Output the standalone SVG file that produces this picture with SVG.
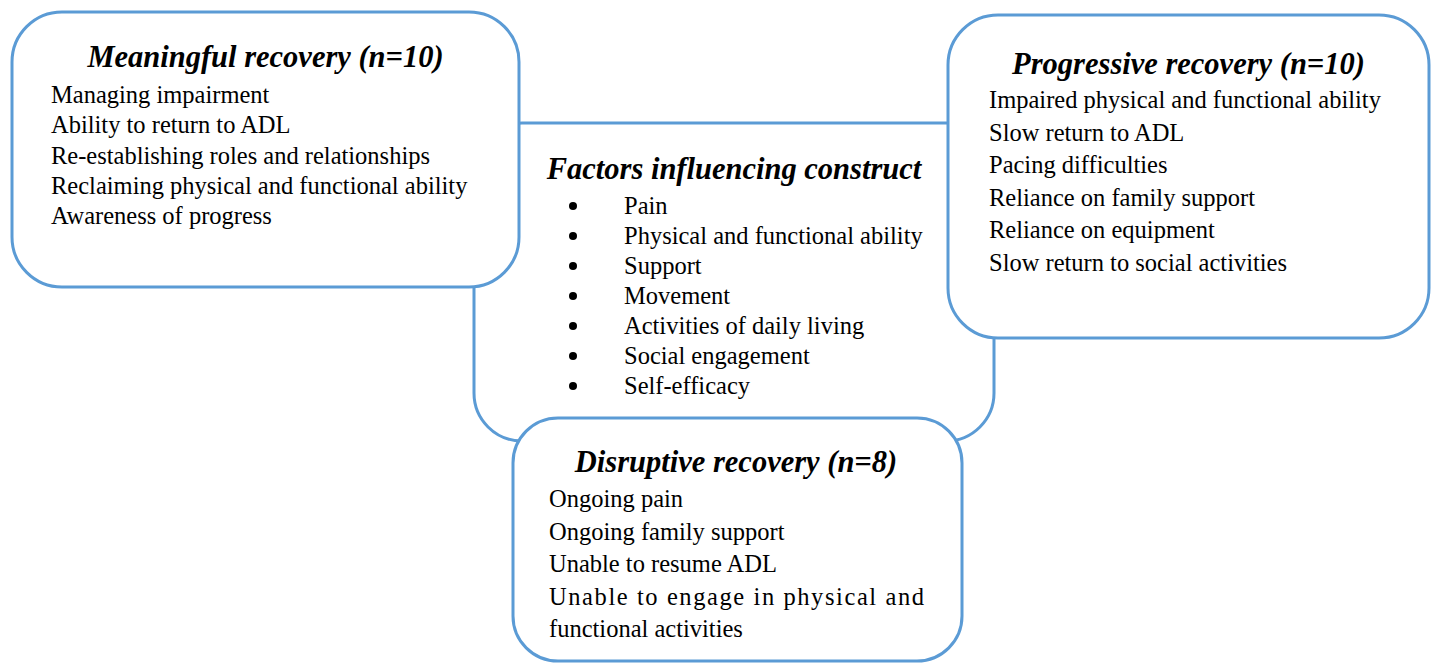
<svg xmlns="http://www.w3.org/2000/svg" width="1432" height="663" viewBox="0 0 1432 663">
<style>
.box{fill:#ffffff;stroke:#5b9bd5;stroke-width:3}
.t{font-family:"Liberation Serif","Times New Roman",serif;font-size:30.5px;font-weight:bold;font-style:italic;fill:#000;text-anchor:middle}
.b{font-family:"Liberation Serif","Times New Roman",serif;font-size:24.5px;fill:#000}
.dot{fill:#000}
</style>
<rect width="1432" height="663" fill="#ffffff"/>
<g id="connectors"></g>
<g id="factors">
<rect class="box" x="474" y="123" width="520" height="318" rx="48"/>
<text class="t" x="734" y="179">Factors influencing construct</text>
<circle class="dot" cx="573" cy="206" r="4"/>
<circle class="dot" cx="573" cy="236" r="4"/>
<circle class="dot" cx="573" cy="266" r="4"/>
<circle class="dot" cx="573" cy="296" r="4"/>
<circle class="dot" cx="573" cy="326" r="4"/>
<circle class="dot" cx="573" cy="356" r="4"/>
<circle class="dot" cx="573" cy="386" r="4"/>
<text class="b" x="624" y="214">Pain</text>
<text class="b" x="624" y="244">Physical and functional ability</text>
<text class="b" x="624" y="274">Support</text>
<text class="b" x="624" y="304">Movement</text>
<text class="b" x="624" y="334">Activities of daily living</text>
<text class="b" x="624" y="364">Social engagement</text>
<text class="b" x="624" y="394">Self-efficacy</text>
</g>
<g id="meaningful">
<rect class="box" x="12" y="12" width="507" height="275" rx="50"/>
<text class="t" x="265.5" y="67">Meaningful recovery (n=10)</text>
<text class="b" x="51" y="103">Managing impairment</text>
<text class="b" x="51" y="133">Ability to return to ADL</text>
<text class="b" x="51" y="164">Re-establishing roles and relationships</text>
<text class="b" x="51" y="194">Reclaiming physical and functional ability</text>
<text class="b" x="51" y="224">Awareness of progress</text>
</g>
<g id="progressive">
<rect class="box" x="948" y="15" width="481" height="323" rx="50"/>
<text class="t" x="1188.5" y="74">Progressive recovery (n=10)</text>
<text class="b" x="989" y="108">Impaired physical and functional ability</text>
<text class="b" x="989" y="141">Slow return to ADL</text>
<text class="b" x="989" y="173">Pacing difficulties</text>
<text class="b" x="989" y="206">Reliance on family support</text>
<text class="b" x="989" y="238">Reliance on equipment</text>
<text class="b" x="989" y="271">Slow return to social activities</text>
</g>
<g id="disruptive">
<rect class="box" x="513" y="418" width="449" height="243" rx="45"/>
<text class="t" x="736" y="472">Disruptive recovery (n=8)</text>
<text class="b" x="549" y="507">Ongoing pain</text>
<text class="b" x="549" y="540">Ongoing family support</text>
<text class="b" x="549" y="572">Unable to resume ADL</text>
<text class="b" x="549" y="605" textLength="375" lengthAdjust="spacing">Unable to engage in physical and</text>
<text class="b" x="549" y="637">functional activities</text>
</g>
</svg>
